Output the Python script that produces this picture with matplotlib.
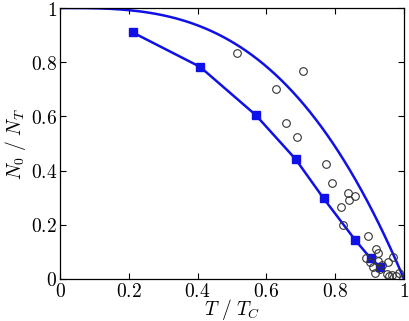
import numpy as np
import matplotlib
matplotlib.use("Agg")
import matplotlib.pyplot as plt
from matplotlib.ticker import FuncFormatter

plt.rcParams['mathtext.fontset'] = 'cm'

# theory curve: 1 - (T/Tc)^3
t_curve = np.linspace(0, 1, 300)
n_curve = 1 - t_curve**3

# squares series
sq_x = [0.211, 0.407, 0.569, 0.685, 0.766, 0.858, 0.903, 0.930]
sq_y = [0.910, 0.783, 0.605, 0.442, 0.298, 0.144, 0.076, 0.045]

# experimental circles
c_x = [0.514, 0.705, 0.628, 0.656, 0.688, 0.774, 0.792, 0.836, 0.841, 0.858,
       0.816, 0.822, 0.895, 0.919, 0.923, 0.967, 0.889, 0.901, 0.923, 0.954,
       0.936, 0.911, 0.915, 0.930, 0.950, 0.957, 0.977, 0.986, 0.965]
c_y = [0.835, 0.768, 0.702, 0.577, 0.523, 0.424, 0.355, 0.318, 0.292, 0.307,
       0.265, 0.198, 0.159, 0.111, 0.095, 0.082, 0.076, 0.061, 0.068, 0.061,
       0.052, 0.045, 0.023, 0.036, 0.018, 0.011, 0.011, 0.023, 0.013]

fig = plt.figure(figsize=(4.09, 3.21), dpi=100)
ax = fig.add_axes([60/409, 1-279/321, 344/409, 271/321])

blue = '#1010e8'
ax.plot(t_curve, n_curve, color=blue, lw=1.8)
ax.plot(sq_x, sq_y, color=blue, lw=1.8, marker='s', ms=5.5, mfc=blue, mec=blue)
ax.plot(c_x, c_y, ls='none', marker='o', ms=5.5, mfc='none', mec='#333333', mew=0.8)

ax.set_xlim(0, 1)
ax.set_ylim(0, 1)
ax.set_xticks([0, 0.2, 0.4, 0.6, 0.8, 1])
ax.set_yticks([0, 0.2, 0.4, 0.6, 0.8, 1])
fmt = FuncFormatter(lambda v, p: f'${v:g}$')
ax.xaxis.set_major_formatter(fmt)
ax.yaxis.set_major_formatter(fmt)
ax.tick_params(direction='in', top=True, right=True, labelsize=14, length=4, width=0.8, pad=2)
for s in ax.spines.values():
    s.set_linewidth(0.9)
ax.set_xlabel(r'$T\ /\ T_C$', fontsize=14, labelpad=-3)
ax.set_ylabel(r'$N_0\ /\ N_T$', fontsize=14, labelpad=2)

fig.savefig('out.png', dpi=100)
